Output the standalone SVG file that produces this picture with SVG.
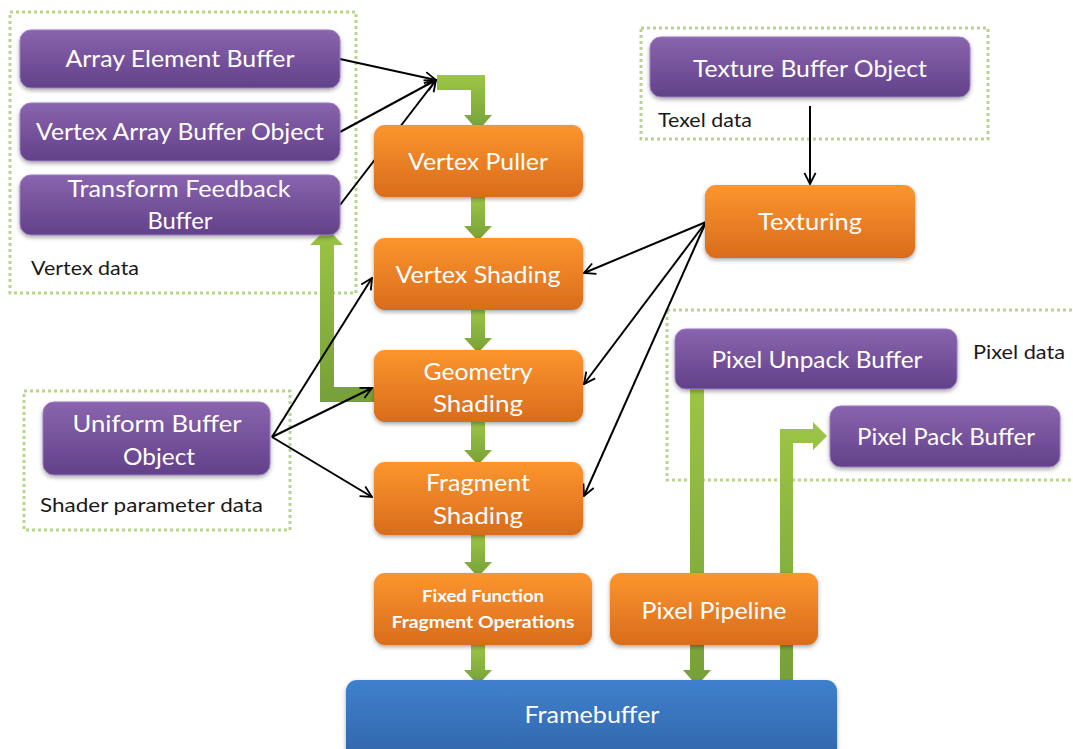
<svg xmlns="http://www.w3.org/2000/svg" width="1073" height="749" viewBox="0 0 1073 749">
<style>
.lbl{font-family:Lato,"Open Sans","Liberation Sans",sans-serif;font-size:23px;fill:#ffffff;text-anchor:middle}
.small{font-family:Lato,"Open Sans","Liberation Sans",sans-serif;font-size:17px;font-weight:bold;fill:#ffffff;text-anchor:middle}
.cap{font-family:Lato,"Open Sans","Liberation Sans",sans-serif;font-size:20px;fill:#1a1a1a}
.grp{fill:none;stroke:#b8d48f;stroke-width:3;stroke-dasharray:3 3}
.purple{fill:url(#gPurple);stroke:#9a7bc0;stroke-width:1}
.orange{fill:url(#gOrange)}
.blue{fill:url(#gBlue)}
.garrow{fill:url(#gGreen)}
.line{fill:none;stroke:#000;stroke-width:2;marker-end:url(#arr)}
</style>
<defs>
<linearGradient id="gPurple" x1="0" y1="0" x2="0" y2="1"><stop offset="0" stop-color="#8a64ae"/><stop offset="1" stop-color="#62418a"/></linearGradient>
<linearGradient id="gOrange" x1="0" y1="0" x2="0" y2="1"><stop offset="0" stop-color="#fc952e"/><stop offset="1" stop-color="#d96c1c"/></linearGradient>
<linearGradient id="gBlue" x1="0" y1="0" x2="0" y2="1"><stop offset="0" stop-color="#3f80cd"/><stop offset="1" stop-color="#2f62a6"/></linearGradient>
<linearGradient id="gGreen" x1="0" y1="0" x2="0" y2="1"><stop offset="0" stop-color="#9cc545"/><stop offset="1" stop-color="#76a038"/></linearGradient>
<filter id="sh" x="-10%" y="-20%" width="120%" height="150%"><feDropShadow dx="0" dy="2" stdDeviation="2" flood-color="#000" flood-opacity="0.35"/></filter>
<marker id="arr" viewBox="0 0 10 10" refX="9" refY="5" markerWidth="7" markerHeight="7" orient="auto" markerUnits="strokeWidth"><path d="M1,1 L9,5 L1,9" fill="none" stroke="#000" stroke-width="1.3"/></marker>
</defs>

<g id="groups">
<rect class="grp" x="10" y="12" width="346" height="281"/>
<rect class="grp" x="641" y="28" width="347" height="111"/>
<rect class="grp" x="667" y="310" width="420" height="170"/>
<rect class="grp" x="24" y="391" width="266" height="139"/>
<text class="cap" x="31" y="275" textLength="108" lengthAdjust="spacingAndGlyphs">Vertex data</text>
<text class="cap" x="658" y="127" textLength="94" lengthAdjust="spacingAndGlyphs">Texel data</text>
<text class="cap" x="973" y="359" textLength="92" lengthAdjust="spacingAndGlyphs">Pixel data</text>
<text class="cap" x="40" y="512" textLength="223" lengthAdjust="spacingAndGlyphs">Shader parameter data</text>
</g>

<g id="connectors">
<polygon class="garrow" points="437,75 485,75 485,115 492,115 478,131 464,115 471,115 471,90 437,90"/>
<polygon class="garrow" points="471,197 485,197 485,226 492,226 478,241 464,226 471,226"/>
<polygon class="garrow" points="471,310 485,310 485,338 492,338 478,353 464,338 471,338"/>
<polygon class="garrow" points="471,422 485,422 485,450 492,450 478,465 464,450 471,450"/>
<polygon class="garrow" points="471,535 485,535 485,562 492,562 478,577 464,562 471,562"/>
<polygon class="garrow" points="471,645 485,645 485,670 492,670 478,685 464,670 471,670"/>
<polygon class="garrow" points="374,387 374,402 320,402 320,245 310,245 327,228 343,245 334,245 334,387"/>
<polygon class="garrow" points="690,389 704,389 704,670 711,670 697,686 683,670 690,670"/>
<polygon class="garrow" points="780,684 780,429 813,429 813,422 827,436 813,450 813,443 793,443 793,684"/>
<line class="line" x1="340" y1="59" x2="436" y2="80"/>
<line class="line" x1="340" y1="132" x2="436" y2="80"/>
<line class="line" x1="340" y1="205" x2="436" y2="80"/>
<line class="line" x1="272" y1="437" x2="372" y2="278"/>
<line class="line" x1="272" y1="437" x2="372" y2="388"/>
<line class="line" x1="272" y1="437" x2="372" y2="497"/>
<line class="line" x1="706" y1="222" x2="584" y2="273"/>
<line class="line" x1="706" y1="222" x2="584" y2="384"/>
<line class="line" x1="706" y1="222" x2="584" y2="496"/>
<line class="line" x1="810" y1="106" x2="810" y2="184"/>
</g>

<g id="array-element-buffer"><rect class="purple" filter="url(#sh)" x="20" y="30" width="320" height="58" rx="11"/><text class="lbl" x="180" y="67" textLength="229" lengthAdjust="spacingAndGlyphs">Array Element Buffer</text></g>
<g id="vertex-array-buffer-object"><rect class="purple" filter="url(#sh)" x="20" y="103" width="320" height="58" rx="11"/><text class="lbl" x="180" y="140" textLength="288" lengthAdjust="spacingAndGlyphs">Vertex Array Buffer Object</text></g>
<g id="transform-feedback-buffer"><rect class="purple" filter="url(#sh)" x="20" y="175" width="320" height="60" rx="11"/><text class="lbl" x="179" y="197" textLength="223" lengthAdjust="spacingAndGlyphs">Transform Feedback</text><text class="lbl" x="180" y="229" textLength="65" lengthAdjust="spacingAndGlyphs">Buffer</text></g>
<g id="uniform-buffer-object"><rect class="purple" filter="url(#sh)" x="43" y="402" width="227" height="73" rx="11"/><text class="lbl" x="157" y="432" textLength="169" lengthAdjust="spacingAndGlyphs">Uniform  Buffer</text><text class="lbl" x="159" y="465" textLength="72" lengthAdjust="spacingAndGlyphs">Object</text></g>
<g id="texture-buffer-object"><rect class="purple" filter="url(#sh)" x="650" y="37" width="320" height="60" rx="11"/><text class="lbl" x="810" y="77" textLength="234" lengthAdjust="spacingAndGlyphs">Texture Buffer Object</text></g>
<g id="pixel-unpack-buffer"><rect class="purple" filter="url(#sh)" x="675" y="329" width="282" height="60" rx="11"/><text class="lbl" x="817" y="368" textLength="211" lengthAdjust="spacingAndGlyphs">Pixel Unpack Buffer</text></g>
<g id="pixel-pack-buffer"><rect class="purple" filter="url(#sh)" x="830" y="406" width="230" height="61" rx="11"/><text class="lbl" x="946" y="445" textLength="178" lengthAdjust="spacingAndGlyphs">Pixel Pack Buffer</text></g>

<g id="vertex-puller"><rect class="orange" filter="url(#sh)" x="374" y="125" width="209" height="72" rx="11"/><text class="lbl" x="478" y="170" textLength="140" lengthAdjust="spacingAndGlyphs">Vertex Puller</text></g>
<g id="vertex-shading"><rect class="orange" filter="url(#sh)" x="374" y="238" width="209" height="72" rx="11"/><text class="lbl" x="478" y="283" textLength="165" lengthAdjust="spacingAndGlyphs">Vertex Shading</text></g>
<g id="geometry-shading"><rect class="orange" filter="url(#sh)" x="374" y="350" width="209" height="72" rx="11"/><text class="lbl" x="478" y="380" textLength="109" lengthAdjust="spacingAndGlyphs">Geometry</text><text class="lbl" x="478" y="412" textLength="90" lengthAdjust="spacingAndGlyphs">Shading</text></g>
<g id="fragment-shading"><rect class="orange" filter="url(#sh)" x="374" y="462" width="209" height="73" rx="11"/><text class="lbl" x="478" y="491" textLength="104" lengthAdjust="spacingAndGlyphs">Fragment</text><text class="lbl" x="478" y="524" textLength="90" lengthAdjust="spacingAndGlyphs">Shading</text></g>
<g id="fixed-function"><rect class="orange" filter="url(#sh)" x="374" y="573" width="218" height="72" rx="11"/><text class="small" x="483" y="602" textLength="122" lengthAdjust="spacingAndGlyphs">Fixed Function</text><text class="small" x="483" y="628" textLength="183" lengthAdjust="spacingAndGlyphs">Fragment Operations</text></g>
<g id="texturing"><rect class="orange" filter="url(#sh)" x="705" y="185" width="210" height="73" rx="11"/><text class="lbl" x="810" y="230" textLength="104" lengthAdjust="spacingAndGlyphs">Texturing</text></g>
<g id="pixel-pipeline"><rect class="orange" filter="url(#sh)" x="610" y="573" width="208" height="72" rx="11"/><text class="lbl" x="714" y="619" textLength="145" lengthAdjust="spacingAndGlyphs">Pixel Pipeline</text></g>
<g id="framebuffer"><rect class="blue" filter="url(#sh)" x="346" y="680" width="491" height="90" rx="11"/><text class="lbl" x="592" y="723" textLength="135" lengthAdjust="spacingAndGlyphs">Framebuffer</text></g>
</svg>
